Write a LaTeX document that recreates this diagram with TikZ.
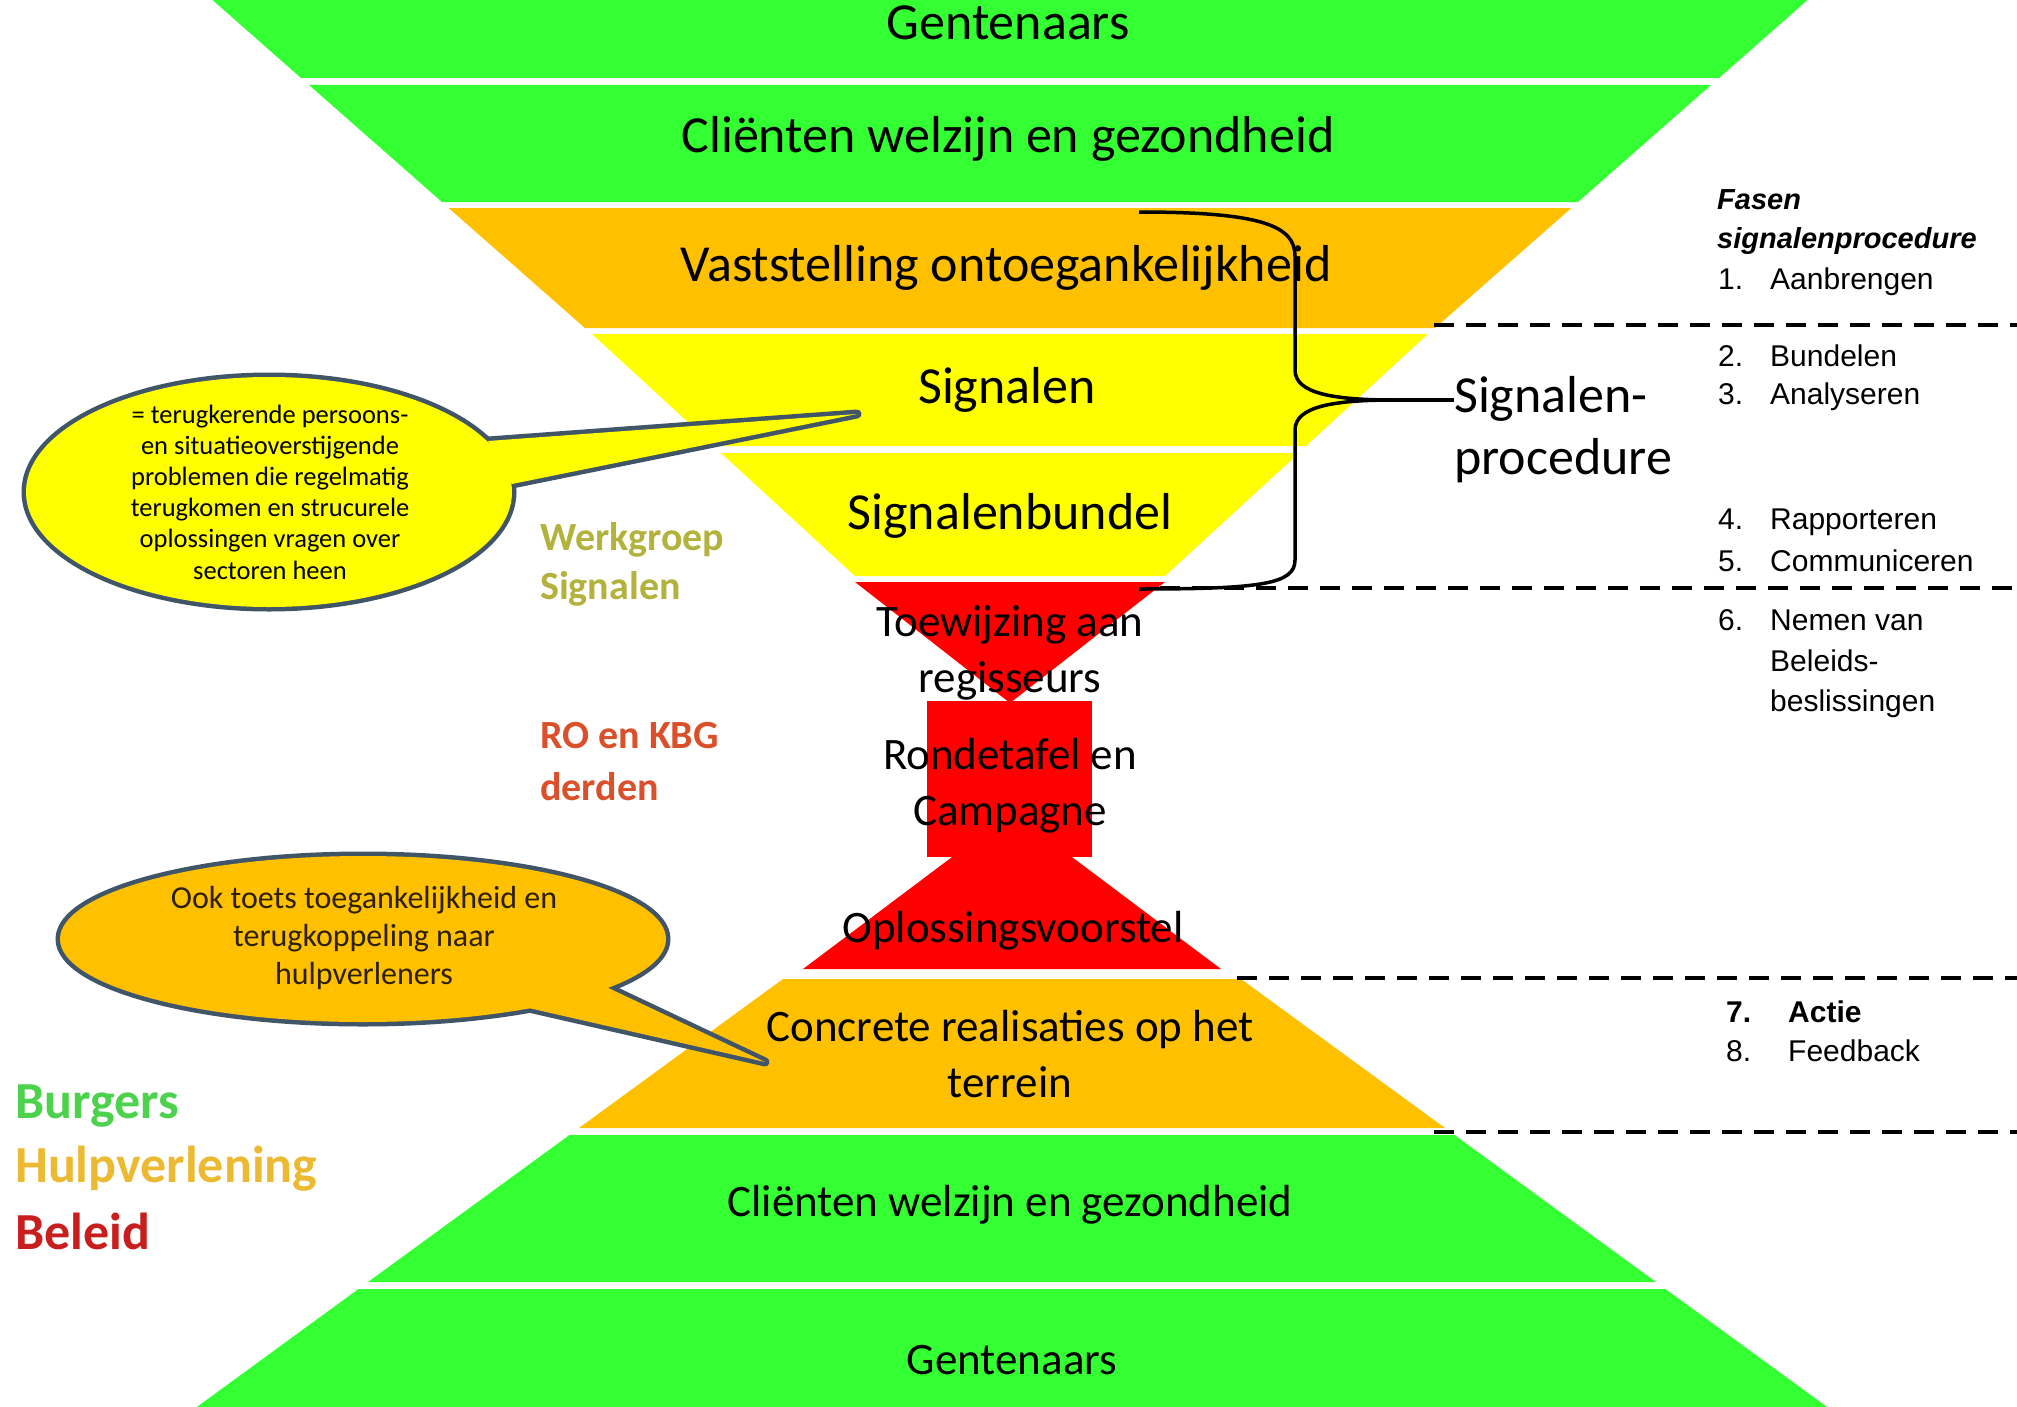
\documentclass[tikz,border=0pt]{standalone}
\usepackage{fontspec}
\setmainfont{Carlito}
\newfontfamily\listfont{Liberation Sans}
\newcommand{\myfs}[2]{\fontsize{#1}{#2}\selectfont}
\definecolor{bandgreen}{RGB}{51,255,51}
\definecolor{bandorange}{RGB}{255,192,0}
\definecolor{bandyellow}{RGB}{255,255,0}
\definecolor{bandred}{RGB}{255,0,0}
\definecolor{callborder}{RGB}{65,85,105}
\definecolor{calltext}{RGB}{45,32,0}
\definecolor{olivelab}{RGB}{178,178,60}
\definecolor{rolab}{RGB}{218,80,42}
\definecolor{burglab}{RGB}{76,210,76}
\definecolor{hulplab}{RGB}{236,186,50}
\definecolor{beleidlab}{RGB}{200,30,30}
\begin{document}
\begin{tikzpicture}[x=1pt,y=-1pt,
  bigtxt/.style={font=\myfs{52}{62}, inner sep=0pt, align=center},
  midtxt/.style={font=\myfs{45}{56}, inner sep=0pt, align=center},
  listtxt/.style={font=\listfont\myfs{30}{40.5}, inner sep=0pt, anchor=west, align=left},
  headtxt/.style={font=\listfont\bfseries\itshape\myfs{29}{40}, inner sep=0pt, anchor=west},
  labtxt/.style={font=\bfseries\myfs{40}{50}, inner sep=0pt, anchor=west},
  legtxt/.style={font=\bfseries\myfs{52}{62}, inner sep=0pt, anchor=west},
  phase/.style={draw=black, line width=4pt, dash pattern=on 20pt off 12pt},
  bracepath/.style={draw=black, line width=3.5pt},
  callline/.style={draw=callborder, line width=9pt, line join=round}]
\useasboundingbox (0,0) rectangle (2017,1407);
\clip (0,0) rectangle (2017,1407);
\fill[white] (0,0) rectangle (2017,1407);

% upper funnel
\fill[bandgreen] (206.8,-5) -- (1813.2,-5) -- (1719,78) -- (301,78) -- cycle;
\fill[bandgreen] (309,85) -- (1711,85) -- (1578,202) -- (442,202) -- cycle;
\fill[bandorange] (448.6,208) -- (1571.4,208) -- (1435,328) -- (585,328) -- cycle;
\fill[bandyellow] (592,334) -- (1428,334) -- (1306,446) -- (714,446) -- cycle;
\fill[bandyellow] (721,453) -- (1299,453) -- (1165,576) -- (855,576) -- cycle;
% red centre
\fill[bandred] (855,582) -- (1165,582) -- (1010,703) -- cycle;
\fill[bandred] (927,701) rectangle (1092,857);
\fill[bandred] (1012,812) -- (1221,969) -- (803,969) -- cycle;
% lower pyramid
\fill[bandorange] (783,979) -- (1241,979) -- (1445,1128) -- (579,1128) -- cycle;
\fill[bandgreen] (569.5,1135) -- (1454.5,1135) -- (1656,1282) -- (368,1282) -- cycle;
\fill[bandgreen] (358.5,1289) -- (1665.5,1289) -- (1834,1412) -- (190,1412) -- cycle;

% band texts
\node[bigtxt] (gent1) at (1008,23) {Gentenaars};
\node[bigtxt] (client1) at (1008,139) {Cliënten welzijn en gezondheid};
\node[bigtxt] (vast) at (1006,268) {Vaststelling ontoegankelijkheid};
\node[bigtxt] (sign) at (1007,390) {Signalen};
\node[bigtxt] (bundel) at (1010,516) {Signalenbundel};
\node[midtxt] (toew) at (1010,653) {Toewijzing aan\\regisseurs};
\node[midtxt] (ronde) at (1010,786) {Rondetafel en\\Campagne};
\node[midtxt] (oplos) at (1013,931) {Oplossingsvoorstel};
\node[midtxt] (concr) at (1010,1054) {Concrete realisaties op het\\terrein};
\node[midtxt] (client2) at (1010,1205) {Cliënten welzijn en gezondheid};
\node[midtxt] (gent2) at (1012,1360) {Gentenaars};

% brace and procedure label
\node[bigtxt, anchor=west, align=left] (proc) at (1454,430) {Signalen-\\procedure};
\coordinate (brtop) at (1139,212);
\coordinate (brbot) at (1139,589);
\coordinate (brtip) at (1395,400);
\draw[bracepath] (brtop) .. controls (1262,212) and (1295,226) .. (1295,256) -- (1295,370)
   .. controls (1295,394) and (1335,400) .. (brtip);
\draw[bracepath] (brtip) .. controls (1335,400) and (1295,406) .. (1295,430) -- (1295,560)
   .. controls (1295,584) and (1262,589) .. (brbot);
\draw[bracepath] (brtip) -- (proc.west |- brtip);

% dashed phase separators
\coordinate (d1a) at (1434,325); \coordinate (d1b) at (2017,325);
\coordinate (d2a) at (1160,588); \coordinate (d2b) at (2017,588);
\coordinate (d3a) at (1237,978); \coordinate (d3b) at (2017,978);
\coordinate (d4a) at (1434,1132); \coordinate (d4b) at (2017,1132);
\draw[phase] (d1a) -- (d1b);
\draw[phase] (d2a) -- (d2b);
\draw[phase] (d3a) -- (d3b);
\draw[phase] (d4a) -- (d4b);

% phase list
\node[headtxt] (fasen) at (1717,200) {Fasen};
\node[headtxt] (sigproc) at (1717,241) {signalenprocedure};
\node[listtxt] (i1) at (1718,282) {\makebox[52pt][l]{1.}Aanbrengen};
\node[listtxt] (i2) at (1718,356) {\makebox[52pt][l]{2.}Bundelen};
\node[listtxt] (i3) at (1718,397) {\makebox[52pt][l]{3.}Analyseren};
\node[listtxt] (i4) at (1718,522) {\makebox[52pt][l]{4.}Rapporteren};
\node[listtxt] (i5) at (1718,561) {\makebox[52pt][l]{5.}Communiceren};
\node[listtxt] (i6) at (1718,664) {\makebox[52pt][l]{6.}Nemen van\\\hspace*{52pt}Beleids-\\\hspace*{52pt}beslissingen};
\node[listtxt] (i7) at (1726,1012) {\bfseries\makebox[62pt][l]{7.}Actie};
\node[listtxt] (i8) at (1726,1051) {\makebox[62pt][l]{8.}Feedback};

% callout 1 (yellow)
\path[callline] (269,492) ellipse [x radius=243pt, y radius=115pt];
\path[callline] (488,441) -- (857,414) -- (512,484) -- cycle;
\fill[bandyellow] (269,492) ellipse [x radius=243pt, y radius=115pt];
\fill[bandyellow] (488,441) -- (857,414) -- (512,484) -- cycle;
\node[font=\myfs{26.5}{31.2}, align=center, inner sep=0pt] (c1txt) at (270,492)
  {= terugkerende persoons-\\en situatieoverstijgende\\problemen die regelmatig\\terugkomen en strucurele\\oplossingen vragen over\\sectoren heen};

% callout 2 (orange)
\path[callline] (363,939) ellipse [x radius=303pt, y radius=83pt];
\path[callline] (602,985) -- (765,1062) -- (520,1006) -- cycle;
\fill[bandorange] (363,939) ellipse [x radius=303pt, y radius=83pt];
\fill[bandorange] (602,985) -- (765,1062) -- (520,1006) -- cycle;
\node[font=\myfs{32}{38}, align=center, inner sep=0pt, text=calltext] (c2txt) at (364,938)
  {Ook toets toegankelijkheid en\\terugkoppeling naar\\hulpverleners};

% side labels
\node[labtxt, text=olivelab] (wg1) at (540,540) {Werkgroep};
\node[labtxt, text=olivelab] (wg2) at (540,589) {Signalen};
\node[labtxt, text=rolab] (ro1) at (540,736) {RO en KBG};
\node[labtxt, text=rolab] (ro2) at (540,787) {derden};
\node[legtxt, text=burglab] (burg) at (15,1106) {Burgers};
\node[legtxt, text=hulplab] (hulp) at (15,1169) {Hulpverlening};
\node[legtxt, text=beleidlab] (bel) at (15,1231) {Beleid};
\end{tikzpicture}
\end{document}
